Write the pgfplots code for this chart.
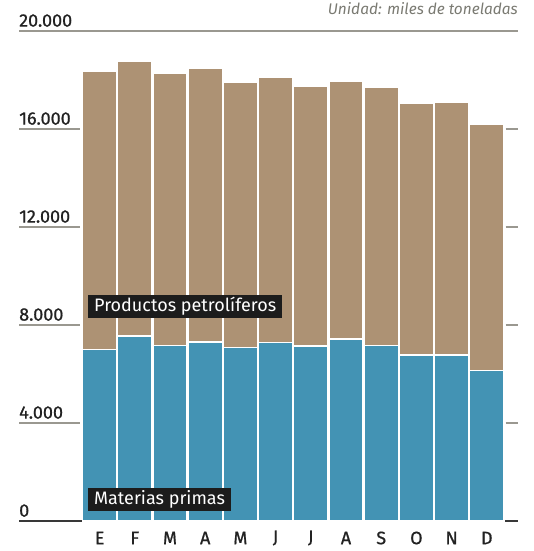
\documentclass[border=0pt]{standalone}
\usepackage{pgfplots}
\pgfplotsset{compat=1.18}
\usepackage{fontspec}
\setmainfont{Fira Sans}
\newfontfamily\medfont[FakeBold=0.8]{Fira Sans}
\definecolor{blueb}{HTML}{4393B4}
\definecolor{tanb}{HTML}{AD9274}
\definecolor{gridc}{HTML}{9A9890}
\definecolor{txt}{HTML}{222222}
\definecolor{unitc}{HTML}{7A7A72}
\definecolor{boxc}{HTML}{1C1C1C}
\begin{document}
\begin{tikzpicture}[x=1pt,y=1pt]
\useasboundingbox (0,0) rectangle (533,551);
\begin{axis}[
  at={(19pt,30pt)}, anchor=south west,
  scale only axis, width=499pt, height=490pt,
  xmin=-1.29, xmax=12.886, ymin=0, ymax=20000,
  axis line style={draw=none},
  major tick length=0pt,
  clip=false,
  ybar stacked, bar width=34.4pt,
  scaled y ticks=false,
  xtick={1,...,12},
  xticklabels={E,F,M,A,M,J,J,A,S,O,N,D},
  xticklabel style={anchor=center, yshift=-17pt, text=txt, font=\medfont\fontsize{18}{20}\selectfont},
  ytick={0,4000,8000,12000,16000,20000},
  yticklabels={0,4.000,8.000,12.000,16.000,20.000},
  yticklabel style={anchor=south west, inner sep=0pt, yshift=4pt, text=txt, font=\medfont\fontsize{18}{20}\selectfont},
]
\addplot[fill=blueb, draw=white, line width=1.6pt] coordinates {
(1,7008) (2,7551) (3,7155) (4,7318) (5,7088) (6,7293)
(7,7143) (8,7429) (9,7170) (10,6776) (11,6780) (12,6136)};
\addplot[fill=tanb, draw=white, line width=1.6pt] coordinates {
(1,11331) (2,11212) (3,11117) (4,11172) (5,10817) (6,10802)
(7,10612) (8,10517) (9,10544) (10,10285) (11,10334) (12,10080)};
\draw[gridc, line width=1.2pt] (axis cs:-1.29,20000) -- (axis cs:12.886,20000);
\pgfplotsinvokeforeach{4000,8000,12000,16000}{
  \draw[gridc, line width=1.2pt] (axis cs:-1.29,#1) -- (axis cs:0.443,#1);
  \draw[gridc, line width=1.2pt] (axis cs:12.537,#1) -- (axis cs:12.886,#1);
}
\draw[txt!90, line width=1.5pt] (axis cs:-1.29,0) -- (axis cs:12.886,0);
\coordinate (lp) at (axis cs:0.67,8755);
\coordinate (lm) at (axis cs:0.67,878);
\end{axis}
\node[fill=boxc, text=white, anchor=west, inner xsep=6pt, inner ysep=2pt,
  minimum height=23pt, font=\fontsize{18}{19}\selectfont] at (lp) {Productos petrolíferos};
\node[fill=boxc, text=white, anchor=west, inner xsep=6pt, inner ysep=2pt,
  minimum height=23pt, font=\fontsize{18}{19}\selectfont] at (lm) {Materias primas};
\node[anchor=base east, inner sep=0pt, text=unitc, font=\itshape\fontsize{15.4}{17}\selectfont] at (518,536) {Unidad: miles de toneladas};
\end{tikzpicture}
\end{document}
